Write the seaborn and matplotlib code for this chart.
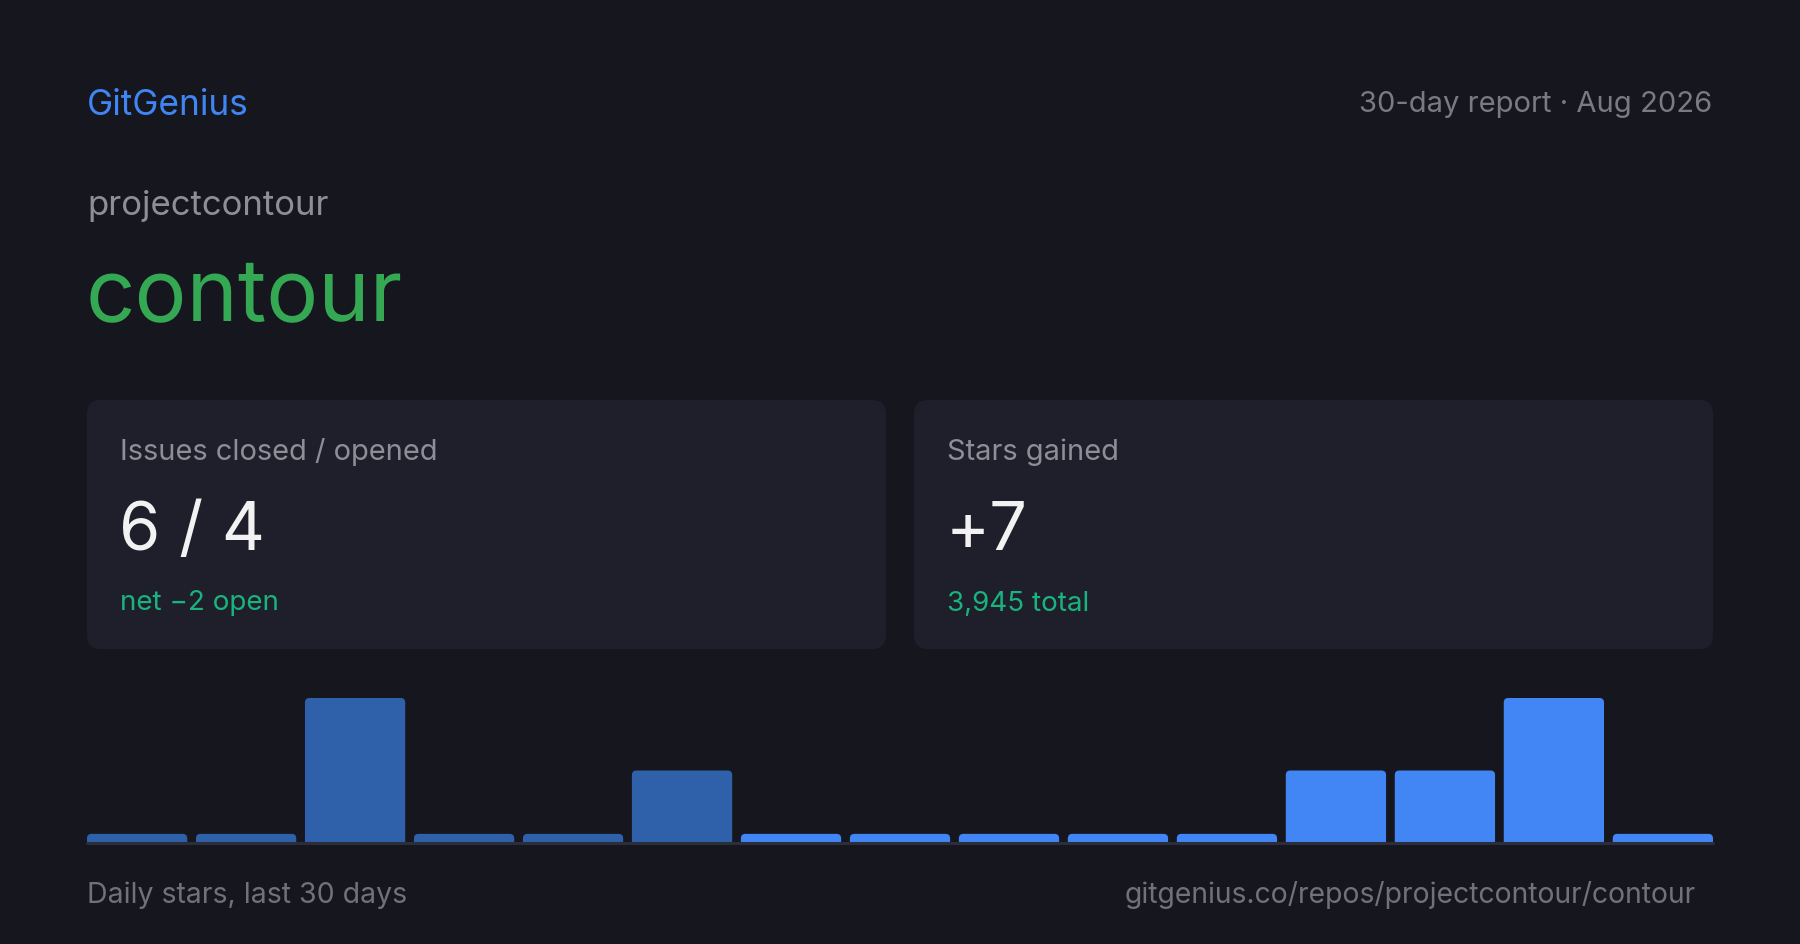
import numpy as np
import pandas as pd
import matplotlib
matplotlib.use("Agg")
import matplotlib.pyplot as plt
from matplotlib.patches import FancyBboxPatch
import seaborn as sns

# ---- data ----
bar_index = list(range(15))
daily_stars = [0, 0, 2, 0, 0, 1, 0, 0, 0, 0, 0, 1, 1, 2, 0]
bar_colors = ["#2f60aa"] * 6 + ["#4285f4"] * 9
brand = "GitGenius"
report = "30-day report · Aug 2026"
owner = "projectcontour"
repo = "contour"
card_labels = ["Issues closed / opened", "Stars gained"]
card_values = ["6 / 4", "+7"]
card_notes = ["net −2 open", "3,945 total"]
footer_left = "Daily stars, last 30 days"
footer_right = "gitgenius.co/repos/projectcontour/contour"

sns.set_theme(style="dark")
plt.rcParams["font.family"] = ["Inter", "DejaVu Sans"]

BG = "#16161f"
CARD = "#1f1f2b"
W, H = 1800, 945
fig = plt.figure(figsize=(18, 9.45), dpi=100, facecolor=BG)

bg = fig.add_axes([0, 0, 1, 1])
bg.set_xlim(0, W)
bg.set_ylim(H, 0)
bg.axis("off")
bg.set_facecolor(BG)

# header
bg.text(87, 115, brand, color="#3f86f4", fontsize=25.3, va="baseline", ha="left")
bg.text(1712, 112, report, color="#7a7a85", fontsize=21, va="baseline", ha="right")
bg.text(87, 215.5, owner, color="#8e8e98", fontsize=25, va="baseline", ha="left")
bg.text(86, 321.5, repo, color="#35a853", fontsize=62.5, va="baseline", ha="left")

# cards
card_x = [87, 914]
card_w = 799
for i in range(2):
    x0 = card_x[i]
    box = FancyBboxPatch((x0, 401), card_w, 249,
                         boxstyle="round,pad=0,rounding_size=14",
                         facecolor=CARD, edgecolor="none")
    bg.add_patch(box)
    bg.text(x0 + 33, 460, card_labels[i], color="#8e8e98", fontsize=20.9, va="baseline")
    bg.text(x0 + 32, 550, card_values[i], color="#f2f2f2", fontsize=48, va="baseline")
    bg.text(x0 + 33, 610.5, card_notes[i], color="#19b47e", fontsize=20, va="baseline")

# footer
bg.text(87, 903, footer_left, color="#71717c", fontsize=20.5, va="baseline")
bg.text(1696, 903, footer_right, color="#71717c", fontsize=20.4, va="baseline", ha="right")

# bar chart
ax_bottom, ax_h = 844, 145
ax = fig.add_axes([87 / W, (H - ax_bottom) / H, 1626 / W, ax_h / H])
ax.set_facecolor("none")
vmax = max(daily_stars)
shown = np.maximum(np.array(daily_stars, dtype=float), vmax * 0.063)
df = pd.DataFrame({"i": bar_index, "v": shown})
bw = 0.92
sns.barplot(data=df, x="i", y="v", hue="i", palette=bar_colors, width=bw,
            legend=False, ax=ax, saturation=1)
ax.set_xlim(-bw / 2, len(bar_index) - 1 + bw / 2)
ax.set_ylim(0, vmax)
ax.axis("off")

# round the top corners of each bar
px_x = 1626 / (len(bar_index) - 1 + bw)
px_y = ax_h / vmax
r = 4.5 / px_x
aspect = px_x / px_y
for p in list(ax.patches):
    x, w, h = p.get_x(), p.get_width(), p.get_height()
    col = p.get_facecolor()
    p.set_visible(False)
    rb = FancyBboxPatch((x, -0.3), w, h + 0.3,
                        boxstyle=f"round,pad=0,rounding_size={r}",
                        mutation_aspect=aspect,
                        facecolor=col, edgecolor="none")
    ax.add_patch(rb)
    rb.set_clip_path(ax.patch)
ax.axhline(0, color="#2c2d3a", lw=2.2, clip_on=False, zorder=5)

fig.savefig("out.png", dpi=100, facecolor=BG)
